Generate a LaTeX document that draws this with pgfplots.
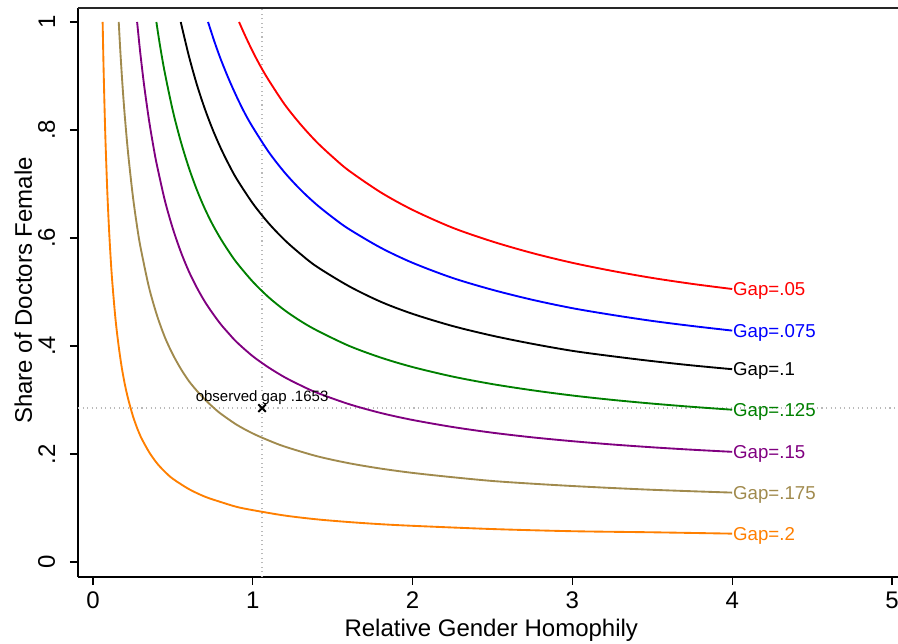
\documentclass[border=0pt]{standalone}
\usepackage{fontspec}
\setmainfont{Liberation Sans}
\usepackage{pgfplots}
\pgfplotsset{compat=1.18}
\usetikzlibrary{calc}
\definecolor{stred}{RGB}{255,0,0}
\definecolor{stblue}{RGB}{0,0,255}
\definecolor{stgreen}{RGB}{0,128,0}
\definecolor{stpurple}{RGB}{128,0,128}
\definecolor{stsand}{RGB}{160,138,77}
\definecolor{storange}{RGB}{255,127,0}
\definecolor{refgray}{RGB}{185,185,185}
\begin{document}
\begin{tikzpicture}
\begin{axis}[
  scale only axis, width=615pt, height=426.75pt,
  xmin=-0.0939, xmax=5.0375, ymin=-0.0278, ymax=1.0259,
  clip=false,
  axis x line*=bottom, axis y line*=left,
  x axis line style={line width=1.8pt},
  y axis line style={line width=1.1pt},
  tick align=outside, major tick length=6pt,
  tick style={black, line width=0.9pt},
  xtick={0,1,2,3,4,5}, xticklabels={0,1,2,3,4,5},
  ytick={0,0.2,0.4,0.6,0.8,1}, yticklabels={0,.2,.4,.6,.8,1},
  /pgf/number format/assume math mode=true,
  ticklabel style={font=\fontsize{18}{21}\selectfont},
  xticklabel style={anchor=north, inner sep=0pt},
  xticklabel shift=5pt,
  yticklabel style={rotate=90, anchor=south, inner sep=0pt},
  yticklabel shift=11pt,
  xlabel={Relative Gender Homophily}, ylabel={Share of Doctors Female},
  label style={font=\fontsize{18}{21}\selectfont},
  xlabel style={at={(axis description cs:0.504,-0.1037)}, anchor=base},
  ylabel style={at={(axis description cs:-0.0561,0.5035)}, anchor=base},
]
\coordinate (bl) at (rel axis cs:0,0);
\coordinate (tr) at (rel axis cs:1,1);
\draw[line width=1.2pt, black!85] (rel axis cs:0,1) -- (rel axis cs:1,1);
% reference lines
\addplot[refgray, line width=0.9pt, dash pattern=on 0.8pt off 2.6pt] coordinates {(1.058,-0.0278) (1.058,1.0259)};
\addplot[refgray, line width=0.9pt, dash pattern=on 0.8pt off 2.6pt] coordinates {(-0.0939,0.285) (5.0375,0.285)};
% Gap=.2
\addplot[storange, line width=1.4pt, smooth] coordinates {
(0.0603,1.000) (0.065,0.930) (0.07,0.867) (0.075,0.811) (0.08,0.763) (0.09,0.682)
(0.10,0.618) (0.11,0.565) (0.12,0.521) (0.14,0.452) (0.16,0.401) (0.18,0.360)
(0.20,0.328) (0.22,0.302) (0.25,0.270) (0.28,0.245) (0.30,0.231) (0.35,0.204)
(0.40,0.183) (0.45,0.167) (0.50,0.154) (0.60,0.135) (0.70,0.121) (0.80,0.111)
(0.90,0.102) (1.0,0.096) (1.2,0.086) (1.4,0.079) (1.6,0.074) (1.8,0.070)
(2.0,0.067) (2.5,0.061) (3.0,0.057) (3.5,0.055) (4.0,0.0525)};
% Gap=.175
\addplot[stsand, line width=1.4pt, smooth] coordinates {
(0.161,1.000) (0.17,0.951) (0.18,0.903) (0.19,0.860) (0.20,0.822) (0.22,0.756)
(0.25,0.676) (0.28,0.613) (0.30,0.579) (0.35,0.509) (0.40,0.457) (0.45,0.416)
(0.50,0.384) (0.55,0.3575) (0.60,0.335) (0.65,0.317) (0.70,0.301) (0.75,0.287)
(0.80,0.2745) (0.90,0.254) (1.0,0.238) (1.1,0.225)
(1.2,0.2137) (1.4,0.196) (1.6,0.183) (1.8,0.173) (2.0,0.165) (2.25,0.157)
(2.5,0.150) (2.75,0.145) (3.0,0.1407) (3.25,0.137) (3.5,0.1337) (3.75,0.131) (4.0,0.1285)};
% Gap=.15
\addplot[stpurple, line width=1.4pt, smooth] coordinates {
(0.276,1.000) (0.29,0.959) (0.30,0.932) (0.32,0.8825) (0.35,0.819) (0.38,0.766)
(0.40,0.735) (0.45,0.669) (0.50,0.617) (0.55,0.574) (0.60,0.538) (0.65,0.508)
(0.70,0.482) (0.75,0.460) (0.80,0.440) (0.85,0.423)
(0.90,0.407) (1.0,0.381) (1.1,0.360) (1.2,0.342) (1.3,0.327) (1.4,0.3136) (1.6,0.2925) (1.8,0.276)
(2.0,0.263) (2.25,0.250) (2.5,0.2394) (2.75,0.2308) (3.0,0.2237) (3.25,0.2176)
(3.5,0.2124) (3.75,0.2079) (4.0,0.204)};
% Gap=.125
\addplot[stgreen, line width=1.4pt, smooth] coordinates {
(0.3965,1.000) (0.42,0.955) (0.45,0.905) (0.50,0.835) (0.55,0.778) (0.60,0.730)
(0.65,0.689) (0.70,0.654) (0.75,0.624) (0.80,0.598) (0.85,0.575) (0.90,0.554)
(1.0,0.519) (1.1,0.490) (1.2,0.466) (1.3,0.446) (1.4,0.429)
(1.6,0.4005) (1.8,0.3786) (2.0,0.361) (2.25,0.3434) (2.5,0.3294) (2.75,0.318)
(3.0,0.3083) (3.25,0.3002) (3.5,0.2933) (3.75,0.2873) (4.0,0.282)};
% Gap=.1
\addplot[black, line width=1.4pt, smooth] coordinates {
(0.549,1.000) (0.60,0.937) (0.65,0.884) (0.70,0.839) (0.75,0.800) (0.80,0.766)
(0.85,0.736) (0.90,0.709) (1.0,0.664) (1.1,0.627) (1.2,0.596) (1.3,0.570)
(1.4,0.547) (1.6,0.511) (1.8,0.482) (2.0,0.4595)
(2.25,0.437) (2.5,0.419) (2.75,0.404) (3.0,0.391) (3.25,0.381) (3.5,0.372)
(3.75,0.364) (4.0,0.357)};
% Gap=.075
\addplot[stblue, line width=1.4pt, smooth] coordinates {
(0.72,1.000) (0.76,0.9635) (0.80,0.9305) (0.85,0.894) (0.90,0.861) (0.95,0.831)
(1.0,0.805) (1.1,0.759) (1.2,0.721) (1.3,0.689) (1.4,0.6616) (1.5,0.638)
(1.6,0.6168) (1.8,0.582) (2.0,0.554) (2.25,0.526)
(2.5,0.504) (2.75,0.4855) (3.0,0.470) (3.25,0.4575) (3.5,0.4464) (3.75,0.437) (4.0,0.4285)};
% Gap=.05
\addplot[stred, line width=1.4pt, smooth] coordinates {
(0.914,1.000) (0.95,0.976) (1.0,0.945) (1.05,0.917) (1.1,0.892) (1.2,0.847)
(1.3,0.810) (1.4,0.7776) (1.5,0.750)
(1.6,0.725) (1.8,0.6846) (2.0,0.652) (2.25,0.619) (2.5,0.5934) (2.75,0.572)
(3.0,0.554) (3.25,0.539) (3.5,0.526) (3.75,0.515) (4.0,0.5055)};
% observed point
\addplot[only marks, mark=x, mark size=4pt, line width=1.5pt, black] coordinates {(1.058,0.285)};
\node[anchor=base, inner sep=0pt, font=\fontsize{11.25}{13}\selectfont, yshift=5.25pt] at (axis cs:1.058,0.285) {observed gap .1653};
% labels
\begin{scope}[every node/.style={anchor=base west, inner sep=0pt, font=\fontsize{14}{16}\selectfont, yshift=-4.9pt, xshift=0.5pt}]
\node[text=stred] at (axis cs:4,0.5055) {Gap=.05};
\node[text=stblue] at (axis cs:4,0.4285) {Gap=.075};
\node[text=black] at (axis cs:4,0.357) {Gap=.1};
\node[text=stgreen] at (axis cs:4,0.282) {Gap=.125};
\node[text=stpurple] at (axis cs:4,0.204) {Gap=.15};
\node[text=stsand] at (axis cs:4,0.1285) {Gap=.175};
\node[text=storange] at (axis cs:4,0.0525) {Gap=.2};
\end{scope}
\end{axis}
\pgfresetboundingbox
\path ($(bl)+(-58.5pt,-49.5pt)$) rectangle ($(tr)+(0pt,6pt)$);
\end{tikzpicture}
\end{document}
